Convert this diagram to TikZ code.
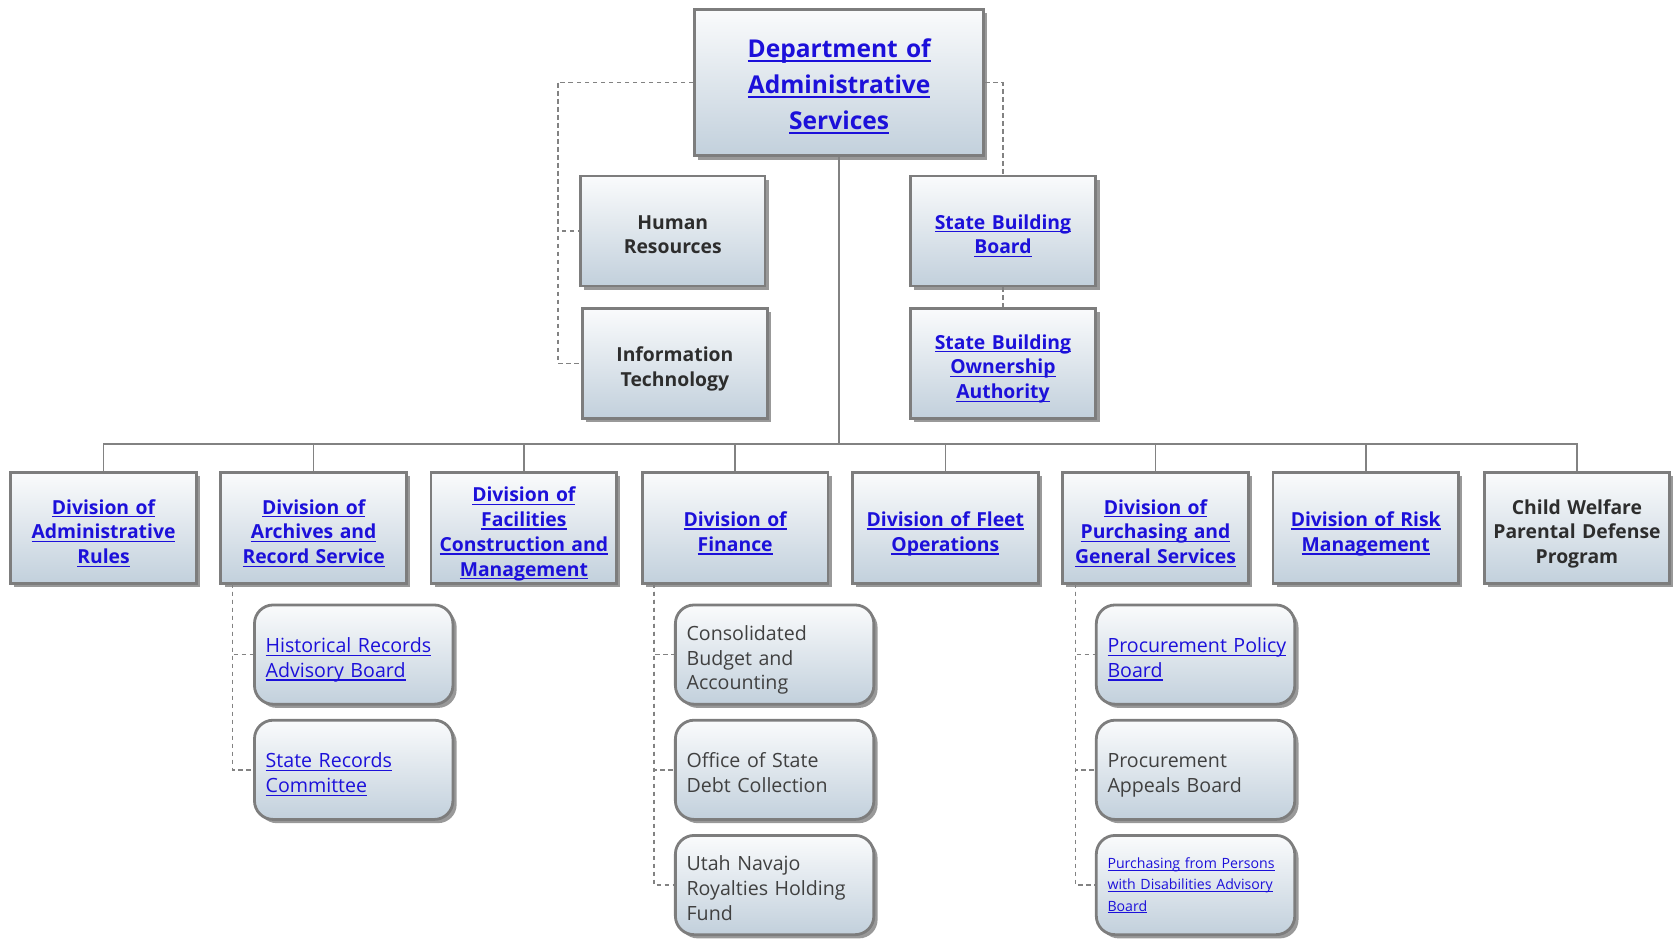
\documentclass[tikz,border=0pt]{standalone}
\usepackage{fontspec}
\setmainfont{Open Sans}
\usetikzlibrary{shadows}
\definecolor{lnk}{RGB}{28,16,218}
\definecolor{txt}{RGB}{45,45,45}
\definecolor{subtxt}{RGB}{64,64,64}
\definecolor{bord}{RGB}{125,125,125}
\definecolor{boxtop}{RGB}{250,251,252}
\definecolor{boxbot}{RGB}{194,208,220}
\definecolor{edgec}{RGB}{130,130,130}
\newcommand{\lk}[1]{\textcolor{lnk}{\setbox0=\hbox{#1}\rlap{\vrule height -0.1em depth 0.17em width \wd0}\box0}}
\def\vadjamt{0pt}
\begin{document}
\begin{tikzpicture}[x=0.8pt,y=-0.8pt,
  vadj/.code={\def\vadjamt{#1}},
  box/.style={draw=bord, line width=2.1pt, top color=boxtop, bottom color=boxbot,
    drop shadow={shadow xshift=2.8pt, shadow yshift=-2.8pt, fill=black, opacity=0.4},
    align=center, inner sep=1pt, text=txt,
    execute at begin node={\rule{0pt}{\dimexpr1.02em+\vadjamt\relax}},
    execute at end node={\rule[-0.3em]{0pt}{0pt}}},
  divbox/.style={box, minimum width=139.2pt, minimum height=83.2pt, text width=136pt,
    font=\bfseries\fontsize{14.5}{18.6}\selectfont, vadj=5.7pt},
  midbox/.style={box, minimum width=138.4pt, minimum height=82.4pt, text width=134pt,
    font=\bfseries\fontsize{14.5}{18.6}\selectfont, vadj=5.4pt},
  topbox/.style={box, minimum width=216.8pt, minimum height=109.6pt, text width=200pt,
    font=\bfseries\fontsize{18.4}{27}\selectfont, vadj=2.8pt},
  subbox/.style={box, rounded corners=14pt, minimum width=148.8pt, minimum height=74.4pt,
    text width=132pt, inner xsep=8.4pt, align=left, text=subtxt,
    font=\fontsize{14.7}{18.6}\selectfont, vadj=5.2pt},
  smalltxt/.style={font=\fontsize{10.6}{16}\selectfont, vadj=-0.6pt},
  solidline/.style={draw=edgec, line width=1.2pt},
  dashline/.style={draw=edgec, line width=1.1pt, dash pattern=on 3.5pt off 2.5pt}
]
\useasboundingbox (0,0) rectangle (1568,881);

% top
\node[topbox] (top) at (786.5,77.5) {\lk{Department of}\\\lk{Administrative}\\\lk{Services}};
\node[midbox] (hr) at (630.5,216.5) {Human\\Resources};
\node[midbox] (it) at (632.5,340.5) {Information\\Technology};
\node[midbox, minimum width=139.2pt] (sbb) at (940,216.5) {\lk{State Building}\\\lk{Board}};
\node[midbox, minimum width=139.2pt] (sboa) at (940,340.5) {\lk{State Building}\\\lk{Ownership}\\\lk{Authority}};

% divisions
\node[divbox] (d1) at (97,495) {\lk{Division of}\\\lk{Administrative}\\\lk{Rules}};
\node[divbox] (d2) at (294,495) {\lk{Division of}\\\lk{Archives and}\\\lk{Record Service}};
\node[divbox] (d3) at (491,495) {\lk{Division of}\\\lk{Facilities}\\\lk{Construction and}\\\lk{Management}};
\node[divbox] (d4) at (689,495) {\lk{Division of}\\\lk{Finance}};
\node[divbox] (d5) at (886,495) {\lk{Division of Fleet}\\\lk{Operations}};
\node[divbox] (d6) at (1083,495) {\lk{Division of}\\\lk{Purchasing and}\\\lk{General Services}};
\node[divbox] (d7) at (1280,495) {\lk{Division of Risk}\\\lk{Management}};
\node[divbox] (d8) at (1478,495) {Child Welfare\\Parental Defense\\Program};

% sub boxes
\node[subbox] (a1) at (331.5,613.5) {\lk{Historical Records}\\\lk{Advisory Board}};
\node[subbox] (a2) at (331.5,721.5) {\lk{State Records}\\\lk{Committee}};
\node[subbox] (f1) at (726,613.5) {Consolidated\\Budget and\\Accounting};
\node[subbox] (f2) at (726,721.5) {Office of State\\Debt Collection};
\node[subbox] (f3) at (726,829.5) {Utah Navajo\\Royalties Holding\\Fund};
\node[subbox] (p1) at (1120.5,613.5) {\lk{Procurement Policy}\\\lk{Board}};
\node[subbox] (p2) at (1120.5,721.5) {Procurement\\Appeals Board};
\node[subbox, smalltxt] (p3) at (1120.5,829.5) {\lk{Purchasing from Persons}\\\lk{with Disabilities Advisory}\\\lk{Board}};

% coordinates
\coordinate (bar) at (786.5,416);
\coordinate (lt) at (523,77.5);
\coordinate (ja) at (218,547);
\coordinate (jf) at (613,547);
\coordinate (jp) at (1008,547);

% solid connectors
\draw[solidline] (top.south) -- (bar);
\foreach \d in {d1,d2,d3,d4,d5,d6,d7,d8}{
  \draw[solidline] (bar) -| (\d.north);
}

% dashed connectors
\draw[dashline] (top.west) -- (lt) |- (it.west);
\draw[dashline] (lt) |- (hr.west);
\draw[dashline] (top.east) -| (sbb.north);
\draw[dashline] (sbb.south) -- (sboa.north);
\draw[dashline] (ja) |- (a1.west);
\draw[dashline] (ja) |- (a2.west);
\draw[dashline] (jf) |- (f1.west);
\draw[dashline] (jf) |- (f2.west);
\draw[dashline] (jf) |- (f3.west);
\draw[dashline] (jp) |- (p1.west);
\draw[dashline] (jp) |- (p2.west);
\draw[dashline] (jp) |- (p3.west);
\end{tikzpicture}
\end{document}
